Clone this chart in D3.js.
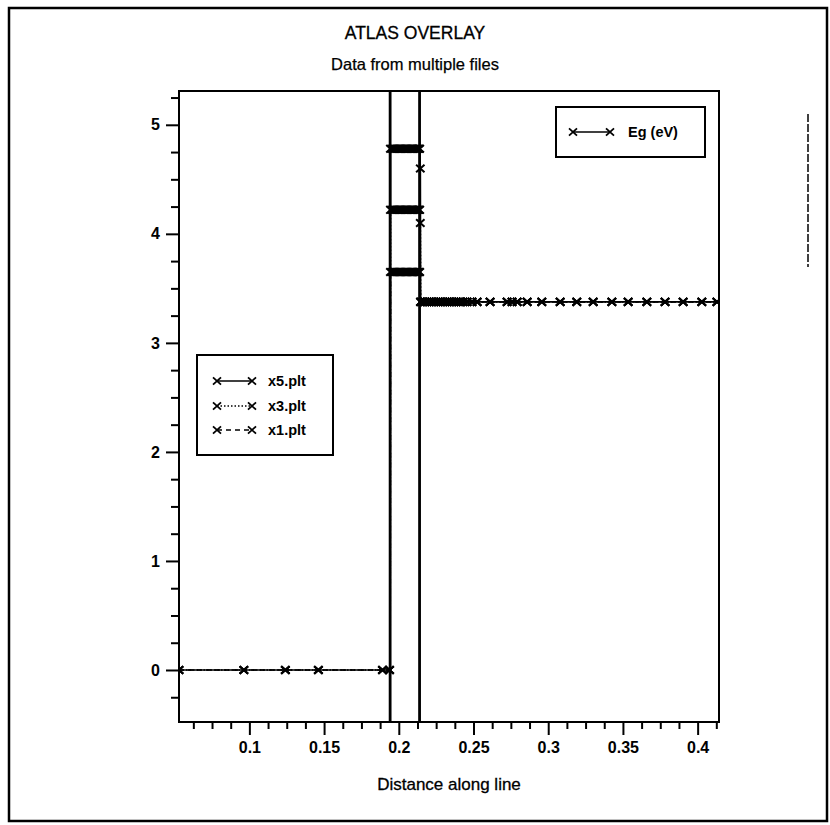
<!DOCTYPE html>
<html>
<head>
<meta charset="utf-8">
<script src="https://cdn.jsdelivr.net/npm/d3@7"></script>
<style>
  html, body { margin: 0; padding: 0; background: #fff; }
  svg { display: block; }
  text { font-family: "Liberation Sans", Arial, Helvetica, sans-serif; fill: #000; }
</style>
</head>
<body>
<svg id="chart" width="830" height="825"></svg>
<script>
// ---------------- data ----------------
const titleText = "ATLAS OVERLAY";
const subtitleText = "Data from multiple files";
const xLabel = "Distance along line";
const xTicks = [0.1, 0.15, 0.2, 0.25, 0.3, 0.35, 0.4];
const xTickLabels = ["0.1", "0.15", "0.2", "0.25", "0.3", "0.35", "0.4"];
const xMinorTicks = [0.0625, 0.075, 0.0875, 0.1125, 0.125, 0.1375, 0.1625, 0.175, 0.1875,
  0.2125, 0.225, 0.2375, 0.2625, 0.275, 0.2875, 0.3125, 0.325, 0.3375, 0.3625, 0.375, 0.3875, 0.4125];
const yTicks = [0, 1, 2, 3, 4, 5];
const yTickLabels = ["0", "1", "2", "3", "4", "5"];
const yMinorTicks = [-0.25, 0.25, 0.5, 0.75, 1.25, 1.5, 1.75, 2.25, 2.5, 2.75,
  3.25, 3.5, 3.75, 4.25, 4.5, 4.75, 5.25];
const xDomain = [0.0529, 0.4143];
const yDomain = [-0.477, 5.31];

const files = ["x5.plt", "x3.plt", "x1.plt"];
const fileDash = ["", "1.5,2", "5,4"];
const seriesName = "Eg (eV)";
const boundaries = [0.1942, 0.2139];

// left region (Eg = 0)
const leftX = [0.0529, 0.0963, 0.1241, 0.1462, 0.1891, 0.1938];
const leftEg = [0, 0, 0, 0, 0, 0];
// well region, one level per file
const wellX = [0.1944, 0.1952, 0.1960, 0.1968, 0.1976, 0.1984, 0.1992, 0.2000, 0.2008, 0.2016,
  0.2024, 0.2032, 0.2040, 0.2048, 0.2056, 0.2064, 0.2072, 0.2080, 0.2088, 0.2096,
  0.2104, 0.2112, 0.2120, 0.2128, 0.2136];
const wellEg = [4.78, 4.22, 3.65];
// transition points at the right interface, per file
const interfaceX = [[0.2140, 0.2144], [0.2140, 0.2144], [0.2140]];
const interfaceEg = [[4.78, 4.60], [4.22, 4.10], [3.65]];
// right region, shared by all files
const rightX = [0.2146, 0.2160, 0.2175, 0.2190, 0.2205, 0.2220, 0.2235, 0.2250, 0.2265, 0.2280,
  0.2295, 0.2310, 0.2325, 0.2340, 0.2355, 0.2370, 0.2385, 0.2400, 0.2415, 0.2430,
  0.2457, 0.2490, 0.2524, 0.2611, 0.2725, 0.2758, 0.2792, 0.2859, 0.2957, 0.3080,
  0.3191, 0.3301, 0.3426, 0.3535, 0.3660, 0.3782, 0.3903, 0.4028, 0.4129];
const rightEg = [3.376, 3.376, 3.376, 3.376, 3.376, 3.376, 3.376, 3.376, 3.376, 3.376,
  3.376, 3.376, 3.376, 3.376, 3.376, 3.376, 3.376, 3.376, 3.376, 3.376,
  3.376, 3.376, 3.376, 3.376, 3.376, 3.376, 3.376, 3.376, 3.376, 3.376,
  3.376, 3.376, 3.376, 3.376, 3.376, 3.376, 3.376, 3.376, 3.376];

// ---------------- drawing ----------------
const svg = d3.select("#chart");
const plot = { left: 179, right: 719, top: 91, bottom: 722 };

const x = d3.scaleLinear().domain(xDomain).range([plot.left, plot.right]);
const y = d3.scaleLinear().domain(yDomain).range([plot.bottom, plot.top]);

// outer page frame
svg.append("rect").attr("x", 9).attr("y", 8).attr("width", 818).attr("height", 813)
  .attr("fill", "none").attr("stroke", "#000").attr("stroke-width", 2.5);

// titles
svg.append("text").attr("x", 415).attr("y", 39).attr("text-anchor", "middle")
  .style("font-size", "17.5px").style("font-weight", "500").style("stroke", "#000").style("stroke-width", 0.3)
  .text(titleText);
svg.append("text").attr("x", 415).attr("y", 70).attr("text-anchor", "middle")
  .style("font-size", "16.5px").style("stroke", "#000").style("stroke-width", 0.25)
  .text(subtitleText);
svg.append("text").attr("x", 449).attr("y", 790).attr("text-anchor", "middle")
  .style("font-size", "17px").style("stroke", "#000").style("stroke-width", 0.3)
  .text(xLabel);

// clip
svg.append("defs").append("clipPath").attr("id", "clip")
  .append("rect").attr("x", plot.left).attr("y", plot.top)
  .attr("width", plot.right - plot.left).attr("height", plot.bottom - plot.top);

// axes
const gx = svg.append("g").attr("transform", `translate(0,${plot.bottom})`)
  .call(d3.axisBottom(x).tickValues(xTicks).tickSize(13).tickPadding(7)
    .tickFormat((d, i) => xTickLabels[i]));
const gxm = svg.append("g").attr("transform", `translate(0,${plot.bottom})`)
  .call(d3.axisBottom(x).tickValues(xMinorTicks).tickSize(7).tickFormat(""));
const gy = svg.append("g").attr("transform", `translate(${plot.left},0)`)
  .call(d3.axisLeft(y).tickValues(yTicks).tickSize(13).tickPadding(6)
    .tickFormat((d, i) => yTickLabels[i]));
const gym = svg.append("g").attr("transform", `translate(${plot.left},0)`)
  .call(d3.axisLeft(y).tickValues(yMinorTicks).tickSize(8).tickFormat(""));
[gx, gxm, gy, gym].forEach(g => {
  g.select(".domain").remove();
  g.selectAll(".tick line").attr("stroke", "#000").attr("stroke-width", 2);
  g.selectAll(".tick text").style("font-size", "16px").style("font-weight", "bold")
    .style("font-family", "'Liberation Sans', Arial, sans-serif").attr("fill", "#000");
});

// plot frame
svg.append("rect").attr("x", plot.left).attr("y", plot.top)
  .attr("width", plot.right - plot.left).attr("height", plot.bottom - plot.top)
  .attr("fill", "none").attr("stroke", "#000").attr("stroke-width", 2);

const data = svg.append("g").attr("clip-path", "url(#clip)");

// region boundary lines
data.selectAll("line.bnd").data(boundaries).enter().append("line")
  .attr("class", "bnd")
  .attr("x1", d => x(d)).attr("x2", d => x(d))
  .attr("y1", plot.top).attr("y2", plot.bottom)
  .attr("stroke", "#000").attr("stroke-width", 2.8);

// build series
function buildSeries(i) {
  const pts = [];
  leftX.forEach((v, k) => pts.push([v, leftEg[k]]));
  pts.push([boundaries[0], 0]);
  wellX.forEach(v => pts.push([v, wellEg[i]]));
  interfaceX[i].forEach((v, k) => pts.push([v, interfaceEg[i][k]]));
  rightX.forEach((v, k) => pts.push([v, rightEg[k]]));
  return pts;
}
function markerPts(i) {
  const pts = [];
  leftX.forEach((v, k) => pts.push([v, leftEg[k]]));
  wellX.forEach(v => pts.push([v, wellEg[i]]));
  interfaceX[i].forEach((v, k) => pts.push([v, interfaceEg[i][k]]));
  rightX.forEach((v, k) => pts.push([v, rightEg[k]]));
  return pts;
}

const line = d3.line().x(d => x(d[0])).y(d => y(d[1]));
const xMark = (cx, cy, s) => `M${cx - s},${cy - s * 0.9}L${cx + s},${cy + s * 0.9}M${cx - s},${cy + s * 0.9}L${cx + s},${cy - s * 0.9}`;

[2, 1, 0].forEach(i => {
  data.append("path").datum(buildSeries(i))
    .attr("d", line).attr("fill", "none").attr("stroke", "#000")
    .attr("stroke-width", 1.7).attr("stroke-dasharray", fileDash[i] || null);
  data.append("g").selectAll("path").data(markerPts(i)).enter().append("path")
    .attr("d", d => xMark(x(d[0]), y(d[1]), 4.2))
    .attr("stroke", "#000").attr("stroke-width", 2).attr("fill", "none");
});

// legend: files
const lg = svg.append("g");
lg.append("rect").attr("x", 197).attr("y", 355).attr("width", 136).attr("height", 100)
  .attr("fill", "#fff").attr("stroke", "#000").attr("stroke-width", 2);
const rowsY = [381, 406, 430];
files.forEach((f, i) => {
  lg.append("line").attr("x1", 217).attr("x2", 252).attr("y1", rowsY[i]).attr("y2", rowsY[i])
    .attr("stroke", "#000").attr("stroke-width", 1.5).attr("stroke-dasharray", fileDash[i] || null);
  [217, 252].forEach(cx => lg.append("path").attr("d", xMark(cx, rowsY[i], 4))
    .attr("stroke", "#000").attr("stroke-width", 1.8).attr("fill", "none"));
  lg.append("text").attr("x", 268).attr("y", rowsY[i] + 5)
    .style("font-size", "14.5px").style("font-weight", "bold").text(f);
});

// legend: series
const lg2 = svg.append("g");
lg2.append("rect").attr("x", 556).attr("y", 107).attr("width", 149).attr("height", 50)
  .attr("fill", "#fff").attr("stroke", "#000").attr("stroke-width", 2);
lg2.append("line").attr("x1", 573).attr("x2", 610).attr("y1", 132).attr("y2", 132)
  .attr("stroke", "#000").attr("stroke-width", 1.5);
[573, 610].forEach(cx => lg2.append("path").attr("d", xMark(cx, 132, 4))
  .attr("stroke", "#000").attr("stroke-width", 1.8).attr("fill", "none"));
lg2.append("text").attr("x", 628).attr("y", 137)
  .style("font-size", "14.5px").style("font-weight", "bold").text(seriesName);

// scan edge mark at right
svg.append("line").attr("x1", 808).attr("x2", 808).attr("y1", 114).attr("y2", 267)
  .attr("stroke", "#000").attr("stroke-width", 1.5).attr("stroke-dasharray", "8,2");
</script>
</body>
</html>
